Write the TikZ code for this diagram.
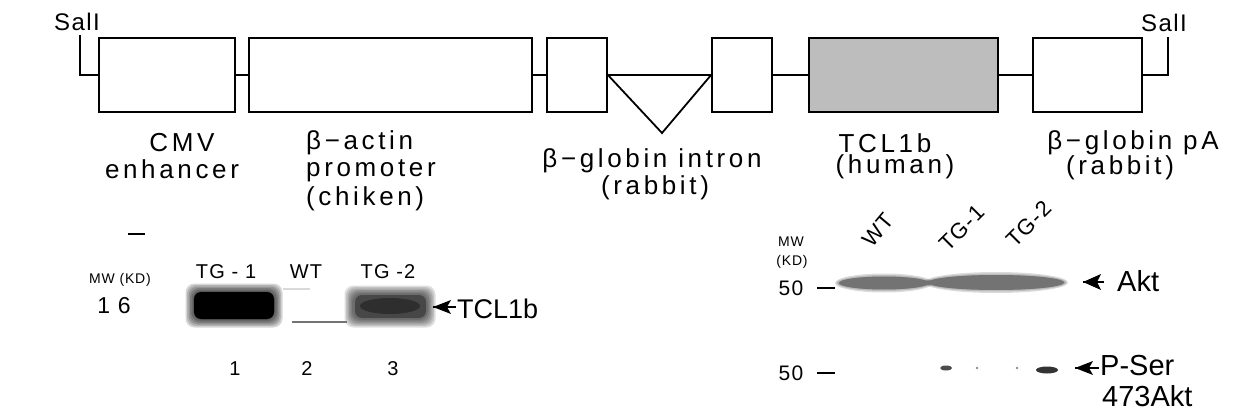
\documentclass[tikz,border=0pt]{standalone}
\usepackage{fontspec}
\setmainfont{Liberation Sans}
\newfontfamily\labfont[LetterSpace=14]{Liberation Sans}
\newfontfamily\gelfont[LetterSpace=6]{Liberation Sans}
\usetikzlibrary{calc}
\begin{document}
\begin{tikzpicture}[x=1pt,y=-1pt,
  box/.style={draw,line width=1.8pt,minimum height=74pt,inner sep=0pt},
  ln/.style={line width=1.8pt},
  toplab/.style={font=\labfont\fontsize{26}{30}\selectfont,inner sep=0pt},
  sall/.style={font=\gelfont\fontsize{24}{28}\selectfont,inner sep=0pt},
  gellab/.style={font=\gelfont\fontsize{20}{24}\selectfont,inner sep=0pt},
  small/.style={font=\gelfont\fontsize{14}{16}\selectfont,inner sep=0pt},
  big/.style={font=\fontsize{29}{32}\selectfont,inner sep=0pt,anchor=west},
  rot/.style={font=\gelfont\fontsize{22}{25}\selectfont,inner sep=0pt},
  tail/.style={line width=2pt},
]
\useasboundingbox (0,0) rectangle (1240,414);
\fill[white] (0,0) rectangle (1240,414);

% ---------- construct ----------
\node[box,minimum width=136pt] (b1) at (167,75) {};
\node[box,minimum width=283pt] (b2) at (390.5,75) {};
\node[box,minimum width=60pt] (b3) at (577,75) {};
\node[box,minimum width=60pt] (b4) at (742,75) {};
\node[box,minimum width=189pt,fill=black!26] (b5) at (903.5,75) {};
\node[box,minimum width=109pt] (b6) at (1087.5,75) {};
\coordinate (sl) at (80,75);  \coordinate (slt) at (80,35);
\coordinate (sr) at (1168,75); \coordinate (srt) at (1168,37);
\coordinate (tv) at (662,133);
\draw[ln] (slt) -- (sl) -- (b1.west);
\draw[ln] (b1.east) -- (b2.west);
\draw[ln] (b2.east) -- (b3.west);
\draw[ln,line join=miter] (b3.east) -- (tv) -- (b4.west) -- cycle;
\draw[ln] (b4.east) -- (b5.west);
\draw[ln] (b5.east) -- (b6.west);
\draw[ln] (b6.east) -- (sr) -- (srt);
\node[sall] (sallL) at (77,22) {SalI};
\node[sall] (sallR) at (1164,23) {SalI};

\node[toplab] (cmv) at (182,143) {CMV};
\node[toplab] (enh) at (172,169) {enhancer};
\node[toplab,anchor=west] (act) at (306,143) {β−actin};
\node[toplab,anchor=west] (pro) at (306,171) {promoter};
\node[toplab,anchor=west] (chi) at (306,199) {(chiken)};
\node[toplab] (intr) at (652,161) {β−globin intron};
\node[toplab] (rab1) at (655,188) {(rabbit)};
\node[toplab] (tcl) at (885,143) {TCL1b};
\node[toplab] (hum) at (895,167) {(human)};
\node[toplab] (pa) at (1133,143) {β−globin pA};
\node[toplab] (rab2) at (1120,168) {(rabbit)};

% ---------- left blot ----------
\coordinate (dA) at (128,234); \coordinate (dB) at (145,234);
\draw[ln] (dA) -- (dB);
\node[small] (mwl) at (120,280) {MW (KD)};
\node[font=\gelfont\fontsize{23}{26}\selectfont,inner sep=0pt] (n16) at (114,306) {1 6};
\node[gellab] (tg1) at (226,272) {TG - 1};
\node[gellab] (wt) at (306,272) {WT};
\node[gellab] (tg2) at (388,272) {TG -2};
% bands (soft edges)
\foreach \d in {0,1.5,...,7.5}{
  \fill[black,opacity=0.16,rounded corners=9pt] (193-\d,291-\d) rectangle (275+\d,320+\d);
  \fill[black,opacity=0.13,rounded corners=9pt] (352-\d,293-\d) rectangle (428+\d,320+\d);
}
\fill[black,rounded corners=7pt] (194,292) rectangle (274,319);
\fill[black!72,rounded corners=7pt] (355,295) rectangle (426,318);
\fill[black!82] (390,306) ellipse [x radius=30pt, y radius=8pt];
\draw[black!55,line width=1.6pt] (292,322) -- (347,322);
\draw[black!15,line width=2.5pt] (283,289) -- (310,289);
% arrow to TCL1b
\coordinate (a1h) at (433,307); \coordinate (a1t) at (456,307);
\draw[tail] (a1h) -- (a1t);
\fill (a1h) -- ++(18,-7) -- ++(-4,7) -- ++(4,7) -- cycle;
\node[font=\fontsize{27}{30}\selectfont,inner sep=0pt,anchor=west] (tclb) at (457,309) {TCL1b};
\node[gellab] (l1) at (235,369) {1};
\node[gellab] (l2) at (307,369) {2};
\node[gellab] (l3) at (393,369) {3};

% ---------- right blot ----------
\node[rot,rotate=50] (rwt) at (878,230) {WT};
\node[rot,rotate=45] (rtg1) at (962,228) {TG-1};
\node[rot,rotate=45] (rtg2) at (1029,224) {TG-2};
\node[small] (mwr) at (791,242) {MW};
\node[small] (kdr) at (792,262) {(KD)};
\node[font=\gelfont\fontsize{21}{24}\selectfont,inner sep=0pt] (f1) at (791,288) {50};
\coordinate (f1a) at (817,288); \coordinate (f1b) at (835,288);
\draw[ln] (f1a) -- (f1b);
\node[font=\gelfont\fontsize{21}{24}\selectfont,inner sep=0pt] (f2) at (791,373) {50};
\coordinate (f2a) at (817,373); \coordinate (f2b) at (835,373);
\draw[ln] (f2a) -- (f2b);
% Akt band
\foreach \d in {0,1.5,3}{
  \fill[black,opacity=0.14] (884,283) ellipse [x radius={46pt+\d pt}, y radius={6.5pt+\d pt}];
  \fill[black,opacity=0.14] (996,282.5) ellipse [x radius={69pt+\d pt}, y radius={7.5pt+\d pt}];
}
\fill[black!55] (884,283) ellipse [x radius=45pt, y radius=6.5pt];
\fill[black!55] (996,282.5) ellipse [x radius=68pt, y radius=7.5pt];
% arrow to Akt
\coordinate (a2h) at (1083,282); \coordinate (a2t) at (1104,282);
\draw[tail] (a2h) -- (a2t);
\fill (a2h) -- ++(18,-8) -- ++(-4,8) -- ++(4,8) -- cycle;
\node[big] (akt) at (1117,281) {Akt};
% P-Ser spots
\fill[black!70] (946,368) ellipse [x radius=6pt, y radius=2.5pt];
\fill[black!45] (977,368) circle [radius=1.3pt];
\fill[black!45] (1017,368) circle [radius=1.3pt];
\fill[black!80] (1047,370) ellipse [x radius=11pt, y radius=3.5pt];
% arrow to P-Ser
\coordinate (a3h) at (1075,368); \coordinate (a3t) at (1099,368);
\draw[tail] (a3h) -- (a3t);
\fill (a3h) -- ++(18,-7) -- ++(-4,7) -- ++(4,7) -- cycle;
\node[big] (pser) at (1100,366) {P-Ser};
\node[big] (akt2) at (1102,396) {473Akt};
\end{tikzpicture}
\end{document}
